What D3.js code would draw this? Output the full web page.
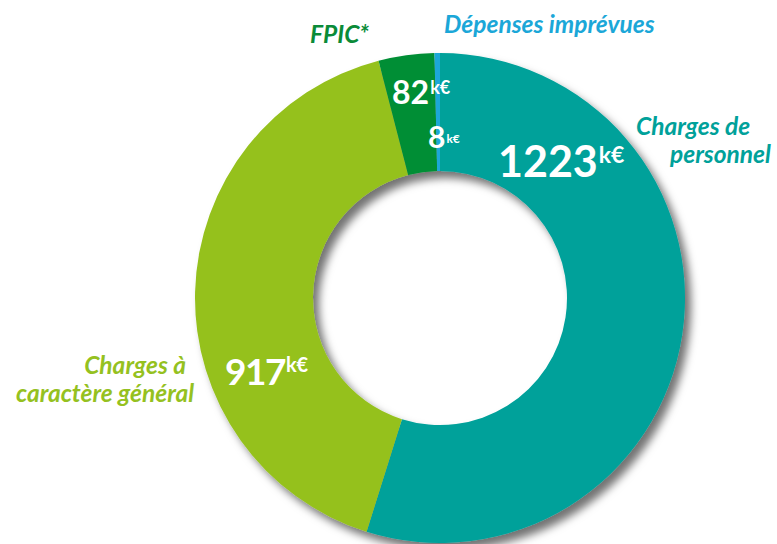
<!DOCTYPE html>
<html>
<head>
<meta charset="utf-8">
<script src="https://cdn.jsdelivr.net/npm/d3@7"></script>
<style>
  html, body { margin: 0; padding: 0; background: #fff; }
  svg { display: block; font-family: Lato, "Open Sans", sans-serif; }
</style>
</head>
<body>
<svg id="donut" width="777" height="544"></svg>
<script>
// Data (k€), clockwise from 12 o'clock
const categories = ["Charges de personnel", "Charges à caractère général", "FPIC*", "Dépenses imprévues"];
const values = [1223, 917, 82, 8];
const colors = ["#00a19a", "#95c11f", "#058e35", "#1ba7d8"];
const labelColors = ["#00a19a", "#95c11f", "#0a8b38", "#1ba7d8"];

const svg = d3.select("#donut");
const width = +svg.attr("width");
const height = +svg.attr("height");

const cx = 440, cy = 298;
const outerR = 245, innerR = 127;

// drop shadow for the ring
const defs = svg.append("defs");
const f = defs.append("filter").attr("id", "shadow")
  .attr("x", "-10%").attr("y", "-10%").attr("width", "125%").attr("height", "125%");
f.append("feDropShadow")
  .attr("dx", 6).attr("dy", 7).attr("stdDeviation", 4.5)
  .attr("flood-color", "#000").attr("flood-opacity", 0.55);

const g = svg.append("g").attr("transform", `translate(${cx},${cy})`);

const pie = d3.pie().sort(null).value(d => d.value);
const arc = d3.arc().innerRadius(innerR).outerRadius(outerR);

const data = categories.map((c, i) => ({ name: c, value: values[i], color: colors[i] }));
const arcs = pie(data);

g.append("g")
  .attr("filter", "url(#shadow)")
  .selectAll("path")
  .data(arcs)
  .enter()
  .append("path")
  .attr("d", arc)
  .attr("fill", d => d.data.color);

// value labels: offset from center, font sizes
const valueLayout = [
  { x: 58, y: -121, size: 43, unit: 23, up: 14, ls: 0 },
  { x: -215, y: 87, size: 37, unit: 20, up: 13, ls: -1.5 },
  { x: -48, y: -194, size: 32, unit: 18, up: 10, ls: 0 },
  { x: -12, y: -150, size: 30, unit: 12, up: 5, ls: 0 }
];

arcs.forEach((d, i) => {
  const L = valueLayout[i];
  const t = g.append("text")
    .attr("x", L.x)
    .attr("y", L.y)
    .attr("fill", "#fff")
    .attr("font-weight", 700);
  t.append("tspan").attr("font-size", L.size + "px").attr("letter-spacing", L.ls).text(d.data.value);
  t.append("tspan").attr("font-size", L.unit + "px").attr("dy", -L.up).attr("dx", 1).text("k€");
});

// category labels
const labelLayout = [
  { lines: ["Charges de", "personnel"], x: [636, 670], y: 135, anchor: "start" },
  { lines: ["Charges à", "caractère général"], x: [186, 194], y: 374, anchor: "end" },
  { lines: ["FPIC*"], x: [310], y: 43, anchor: "start" },
  { lines: ["Dépenses imprévues"], x: [444], y: 33, anchor: "start" }
];

labelLayout.forEach((L, i) => {
  L.lines.forEach((line, j) => {
    svg.append("text")
      .attr("x", L.x[j])
      .attr("y", L.y + j * 28)
      .attr("text-anchor", L.anchor)
      .attr("fill", labelColors[i])
      .attr("font-size", "24.5px")
      .attr("font-weight", 700)
      .attr("font-style", "italic")
      .text(line);
  });
});
</script>
</body>
</html>
